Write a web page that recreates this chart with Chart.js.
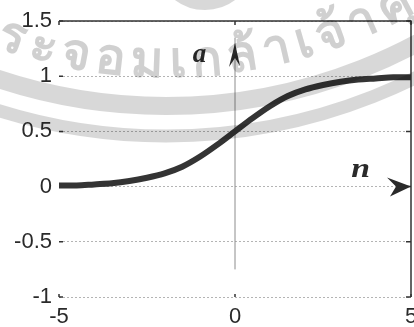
<!DOCTYPE html>
<html>
<head>
<meta charset="utf-8">
<script src="https://cdn.jsdelivr.net/npm/chart.js@4/dist/chart.umd.min.js"></script>
<style>
  html, body { margin: 0; padding: 0; background: #ffffff; }
  #wrap { width: 414px; height: 327px; }
</style>
</head>
<body>
<div id="wrap"><canvas id="c" width="414" height="327"></canvas></div>
<script>
// Log-sigmoid transfer function a = f(n)
const nValues = [-5, -4.5, -4, -3.5, -3, -2.5, -2, -1.5, -1, -0.5, 0, 0.5, 1, 1.5, 2, 2.5, 3, 3.5, 4, 4.5, 5];
const aValues = [0.01, 0.01, 0.02, 0.03, 0.05, 0.08, 0.12, 0.18, 0.27, 0.38, 0.5, 0.62, 0.73, 0.82, 0.88, 0.92, 0.95, 0.97, 0.98, 0.99, 0.99];

const xTicks = [-5, 0, 5];
const xTickLabels = ['-5', '0', '5'];
const yTicks = [-1, -0.5, 0, 0.5, 1, 1.5];
const yTickLabels = ['-1', '-0.5', '0', '0.5', '1', '1.5'];

const axisNameX = 'n';
const axisNameY = 'a';
const stampText = ['พ', 'ร', 'ะ', 'จ', 'อ', 'ม', 'เ', 'ก', 'ล้', 'า', 'เ', 'จ้', 'า', 'คุ', 'ณ'];

const INK = '#2a2a2a';

function drawStamp(ctx) {
  ctx.save();
  ctx.globalCompositeOperation = 'multiply';
  const cx = 166, cy = -427;
  ctx.strokeStyle = '#d8d8d8';
  ctx.lineWidth = 18;
  ctx.beginPath(); ctx.arc(cx, cy, 533, 0, Math.PI); ctx.stroke();
  ctx.lineWidth = 13;
  ctx.beginPath(); ctx.arc(cx, cy, 563, 0, Math.PI); ctx.stroke();
  ctx.lineWidth = 10;
  ctx.beginPath(); ctx.arc(205, -40, 45, 0, Math.PI); ctx.stroke();
  // lettering along the ring
  const r = 490;
  ctx.font = 'bold 50px "Noto Sans", "DejaVu Sans", sans-serif';
  ctx.fillStyle = '#d0d0d0';
  ctx.textAlign = 'center';
  ctx.textBaseline = 'middle';
  const widths = stampText.map(s => ctx.measureText(s).width);
  const t0 = Math.asin((12 - cx) / r);   // centre of second cluster
  const t1 = Math.asin((395 - cx) / r);  // centre of cluster 13
  let natural = 0;
  for (let i = 1; i < 13; i++) natural += (widths[i] + widths[i + 1]) / 2;
  const gap = ((t1 - t0) * r - natural) / 12;
  let s = t0 * r - (widths[0] + widths[1]) / 2 - gap;
  for (let i = 0; i < stampText.length; i++) {
    if (i > 0) s += (widths[i - 1] + widths[i]) / 2 + gap;
    const t = s / r;
    ctx.save();
    ctx.translate(cx + r * Math.sin(t), cy + r * Math.cos(t));
    ctx.rotate(-t);
    ctx.fillText(stampText[i], 0, 0);
    ctx.restore();
  }
  ctx.restore();
}

const framePlugin = {
  id: 'frame',
  beforeDraw(chart) {
    const ctx = chart.ctx;
    ctx.save();
    ctx.fillStyle = '#ffffff';
    ctx.fillRect(0, 0, chart.width, chart.height);
    ctx.restore();
  },
  beforeDatasetsDraw(chart) {
    const { ctx, chartArea: a, scales: { x, y } } = chart;
    ctx.save();
    // vertical axis line through n = 0
    const x0 = x.getPixelForValue(0);
    ctx.strokeStyle = '#8c8c8c';
    ctx.lineWidth = 1;
    ctx.beginPath();
    ctx.moveTo(x0, y.getPixelForValue(-0.75));
    ctx.lineTo(x0, y.getPixelForValue(1.35));
    ctx.stroke();
    // box: top and right edges
    ctx.strokeStyle = '#333333';
    ctx.lineWidth = 1.5;
    ctx.beginPath();
    ctx.moveTo(a.left, a.top); ctx.lineTo(a.right, a.top); ctx.lineTo(a.right, a.bottom);
    ctx.stroke();
    // inner tick marks
    ctx.lineWidth = 1.5;
    ctx.beginPath();
    yTicks.forEach(v => {
      const py = y.getPixelForValue(v);
      ctx.moveTo(a.left, py); ctx.lineTo(a.left + 4, py);
      ctx.moveTo(a.right - 5, py); ctx.lineTo(a.right, py);
    });
    xTicks.forEach(v => {
      const px = x.getPixelForValue(v);
      ctx.moveTo(px, a.top); ctx.lineTo(px, a.top + 4);
      ctx.moveTo(px, a.bottom); ctx.lineTo(px, a.bottom - 3);
    });
    ctx.stroke();
    ctx.restore();
  },
  afterDatasetsDraw(chart) {
    const { ctx, scales: { x, y } } = chart;
    ctx.save();
    ctx.fillStyle = INK;
    // arrow head on the a axis
    const ux = x.getPixelForValue(0);
    const uy = y.getPixelForValue(1.3);
    ctx.beginPath();
    ctx.moveTo(ux, uy);
    ctx.lineTo(ux + 5, uy + 23);
    ctx.lineTo(ux, uy + 15);
    ctx.lineTo(ux - 6, uy + 24);
    ctx.closePath();
    ctx.fill();
    // arrow head on the n axis
    const rx = x.getPixelForValue(5);
    const ry = y.getPixelForValue(0);
    ctx.beginPath();
    ctx.moveTo(rx, ry);
    ctx.lineTo(rx - 24, ry - 9);
    ctx.lineTo(rx - 15, ry);
    ctx.lineTo(rx - 21, ry + 10);
    ctx.closePath();
    ctx.fill();
    // axis names
    ctx.font = 'italic bold 27px "Liberation Serif", "DejaVu Serif", serif';
    ctx.textBaseline = 'alphabetic';
    ctx.textAlign = 'left';
    ctx.fillText(axisNameY, x.getPixelForValue(-1.2), y.getPixelForValue(1.13));
    ctx.save();
    ctx.translate(x.getPixelForValue(3.3), y.getPixelForValue(0.09));
    ctx.scale(1.25, 1);
    ctx.fillText(axisNameX, 0, 0);
    ctx.restore();
    ctx.restore();
  },
  afterDraw(chart) {
    drawStamp(chart.ctx);
  }
};

new Chart(document.getElementById('c'), {
  type: 'line',
  data: {
    datasets: [{
      data: nValues.map((n, i) => ({ x: n, y: aValues[i] })),
      borderColor: '#343434',
      borderWidth: 6,
      pointRadius: 0,
      fill: false,
      cubicInterpolationMode: 'monotone',
      borderCapStyle: 'butt'
    }]
  },
  options: {
    responsive: false,
    devicePixelRatio: 1,
    animation: false,
    events: [],
    layout: { padding: { top: 21, right: 3, left: 0, bottom: 0 } },
    plugins: { legend: { display: false }, tooltip: { enabled: false } },
    scales: {
      x: {
        type: 'linear',
        min: -5,
        max: 5,
        afterBuildTicks(s) { s.ticks = xTicks.map(v => ({ value: v })); },
        afterFit(s) { s.height = 30; s.paddingLeft = 0; s.paddingRight = 0; },
        grid: { drawOnChartArea: false, drawTicks: false },
        border: { display: false },
        ticks: {
          padding: 7,
          maxRotation: 0,
          autoSkip: false,
          color: INK,
          font: { family: '"Liberation Sans", Arial, sans-serif', size: 22 },
          callback: (v, i) => xTickLabels[i]
        }
      },
      y: {
        type: 'linear',
        min: -1,
        max: 1.5,
        afterBuildTicks(s) { s.ticks = yTicks.map(v => ({ value: v })); },
        afterFit(s) { s.width = 59; s.paddingTop = 0; s.paddingBottom = 0; },
        grid: { color: '#b4b4b4', lineWidth: 1, drawTicks: false },
        border: { display: false, dash: [2, 2] },
        ticks: {
          padding: 7,
          autoSkip: false,
          color: INK,
          font: { family: '"Liberation Sans", Arial, sans-serif', size: 22 },
          callback: (v, i) => yTickLabels[i]
        }
      }
    }
  },
  plugins: [framePlugin]
});
</script>
</body>
</html>
